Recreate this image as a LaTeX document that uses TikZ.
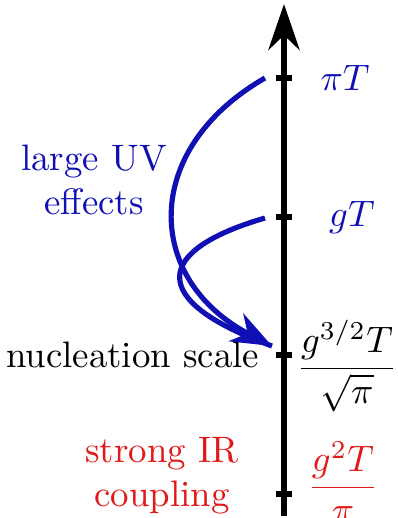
\documentclass[tikz,border=0pt]{standalone}
\usepackage{amsmath}
\usetikzlibrary{arrows.meta}
\definecolor{uvblue}{RGB}{15,15,180}
\definecolor{irred}{RGB}{225,25,25}
\begin{document}
\begin{tikzpicture}[x=0.2714pt, y=-0.2714pt, line join=round, >=Stealth]
	\useasboundingbox (0,0) rectangle (398,518);
	\path (284,516) coordinate (O)
	(284,4) coordinate (top)
	(284,78) coordinate (P)
	(284,217) coordinate (G)
	(284,355) coordinate (N)
	(284,494) coordinate (S)
	(265,78) coordinate (uvA)
	(265,218) coordinate (uvB)
	(272,346) coordinate (tip);
	\draw[line width=1.6pt, -{Stealth[length=12.5pt, width=8.5pt]}] (O) -- (top);
	\foreach \p in {P,G,N,S}
	\draw[line width=1.6pt] (\p) ++(-8,0) -- ++(16,0);
	\draw[uvblue, line width=1.4pt] (uvB) .. controls (155,250) and (145,300) .. (tip);
	\draw[uvblue, line width=1.4pt, -{Stealth[length=11pt, width=8.5pt]}] (uvA) .. controls (140,150) and (145,280) .. (tip);
	\node[uvblue] (lP) at (345,78) {$\pi T$};
	\node[uvblue] (lG) at (352,217) {$gT$};
	\node (lN) at (347,366) {$\dfrac{g^{3/2}T}{\sqrt{\pi}}$};
	\node[irred] (lS) at (343,482) {$\dfrac{g^{2}T}{\pi}$};
	\node[anchor=east, inner sep=0pt] (nuc) at (260,355) {nucleation scale};
	\node[uvblue, align=center] (uv) at (94,180) {large UV\\effects};
	\node[irred, align=center] (ir) at (162,476) {strong IR\\coupling};
\end{tikzpicture}
\end{document}
